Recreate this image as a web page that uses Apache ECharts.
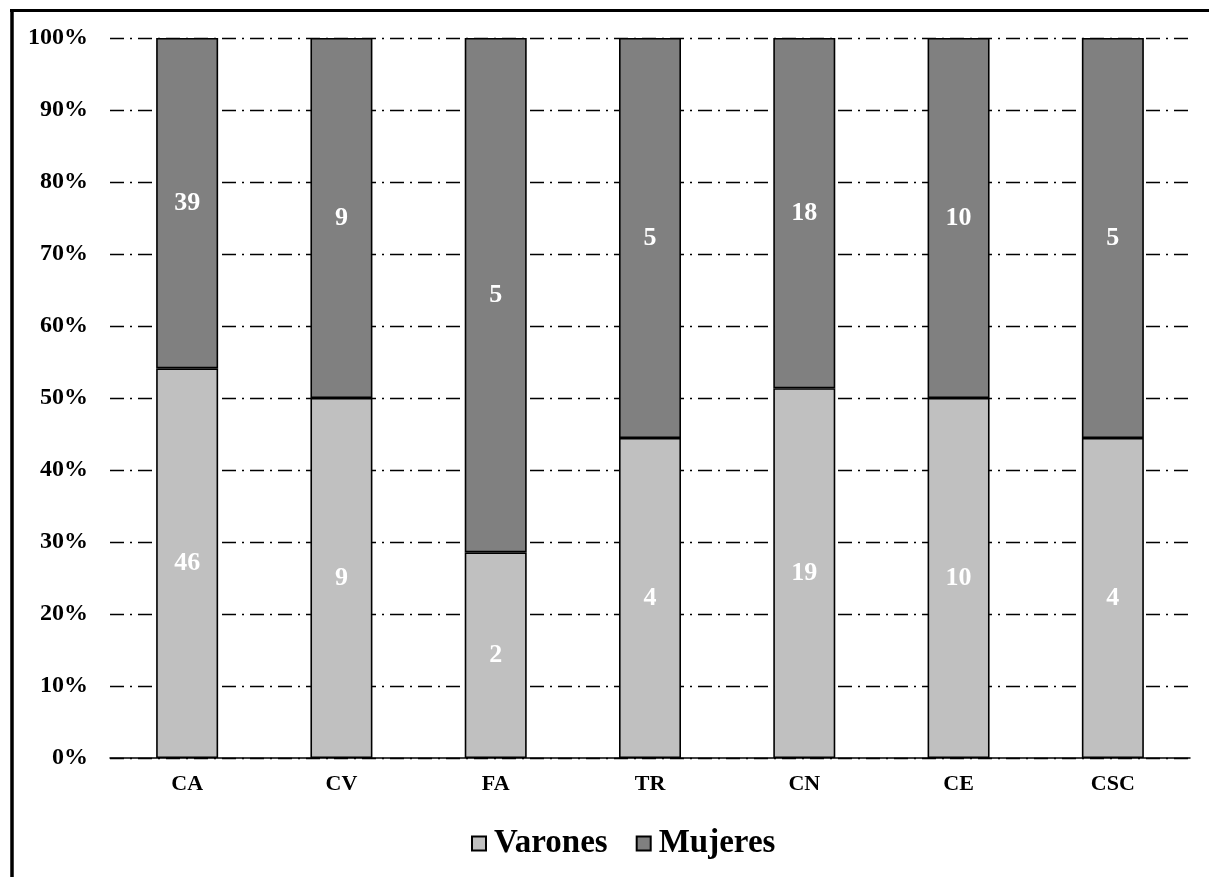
<!DOCTYPE html>
<html>
<head>
<meta charset="utf-8">
<script src="https://cdn.jsdelivr.net/npm/echarts@6/dist/echarts.min.js"></script>
<style>
html,body{margin:0;padding:0;background:#fff;}
#chart{width:1209px;height:877px;}
</style>
</head>
<body>
<div id="chart"></div>
<script>
const categories = ['CA','CV','FA','TR','CN','CE','CSC'];
const varones = [46, 9, 2, 4, 19, 10, 4];
const mujeres = [39, 9, 5, 5, 18, 10, 5];
const yTicks = [0,10,20,30,40,50,60,70,80,90,100];

const totals = categories.map((c,i) => varones[i] + mujeres[i]);
const pctV = varones.map((v,i) => v / totals[i] * 100);
const pctM = mujeres.map((v,i) => v / totals[i] * 100);

const FONT = '"Liberation Serif","Times New Roman",serif';

const chart = echarts.init(document.getElementById('chart'), null, {renderer:'canvas'});

function labelFor(arr){
  return {
    show:true,
    position:'inside',
    color:'#ffffff',
    fontFamily:FONT,
    fontWeight:'bold',
    fontSize:26,
    formatter: p => String(arr[p.dataIndex])
  };
}

chart.setOption({
  animation:false,
  backgroundColor:'#ffffff',
  grid:{left:110, right:19, top:38, bottom:119, containLabel:false},
  legend:{
    data:['Varones','Mujeres'],
    top:822,
    left:466,
    itemWidth:14,
    itemHeight:14,
    itemGap:28,
    icon:'rect',
    textStyle:{fontFamily:FONT, fontWeight:'bold', fontSize:33, color:'#000', padding:[0,0,0,3]}
  },
  xAxis:{
    type:'category',
    data:categories,
    axisLine:{show:true, lineStyle:{color:'#000', width:1.5}},
    axisTick:{show:false},
    axisLabel:{fontFamily:FONT, fontWeight:'bold', fontSize:22, color:'#000', margin:15}
  },
  yAxis:{
    type:'value',
    min:0, max:100, interval:10,
    axisLine:{show:false},
    axisTick:{show:false},
    axisLabel:{fontFamily:FONT, fontWeight:'bold', fontSize:24, color:'#000', margin:22,
      formatter: v => yTicks.includes(v) ? v + '%' : ''},
    splitLine:{show:true, lineStyle:{color:'#000', width:1.4, type:[14,6,2,6]}}
  },
  series:[
    {
      name:'Varones', type:'bar', stack:'t', data:pctV, barWidth:62,
      itemStyle:{color:'#c0c0c0', borderColor:'#000', borderWidth:1.6},
      label:labelFor(varones)
    },
    {
      name:'Mujeres', type:'bar', stack:'t', data:pctM, barWidth:62,
      itemStyle:{color:'#808080', borderColor:'#000', borderWidth:1.6},
      label:labelFor(mujeres)
    }
  ],
  graphic:[
    {type:'line', shape:{x1:12, y1:9, x2:12, y2:877}, style:{stroke:'#000', lineWidth:3.5}, z:100},
    {type:'line', shape:{x1:10, y1:10.5, x2:1209, y2:10.5}, style:{stroke:'#000', lineWidth:3}, z:100}
  ]
});
</script>
</body>
</html>
